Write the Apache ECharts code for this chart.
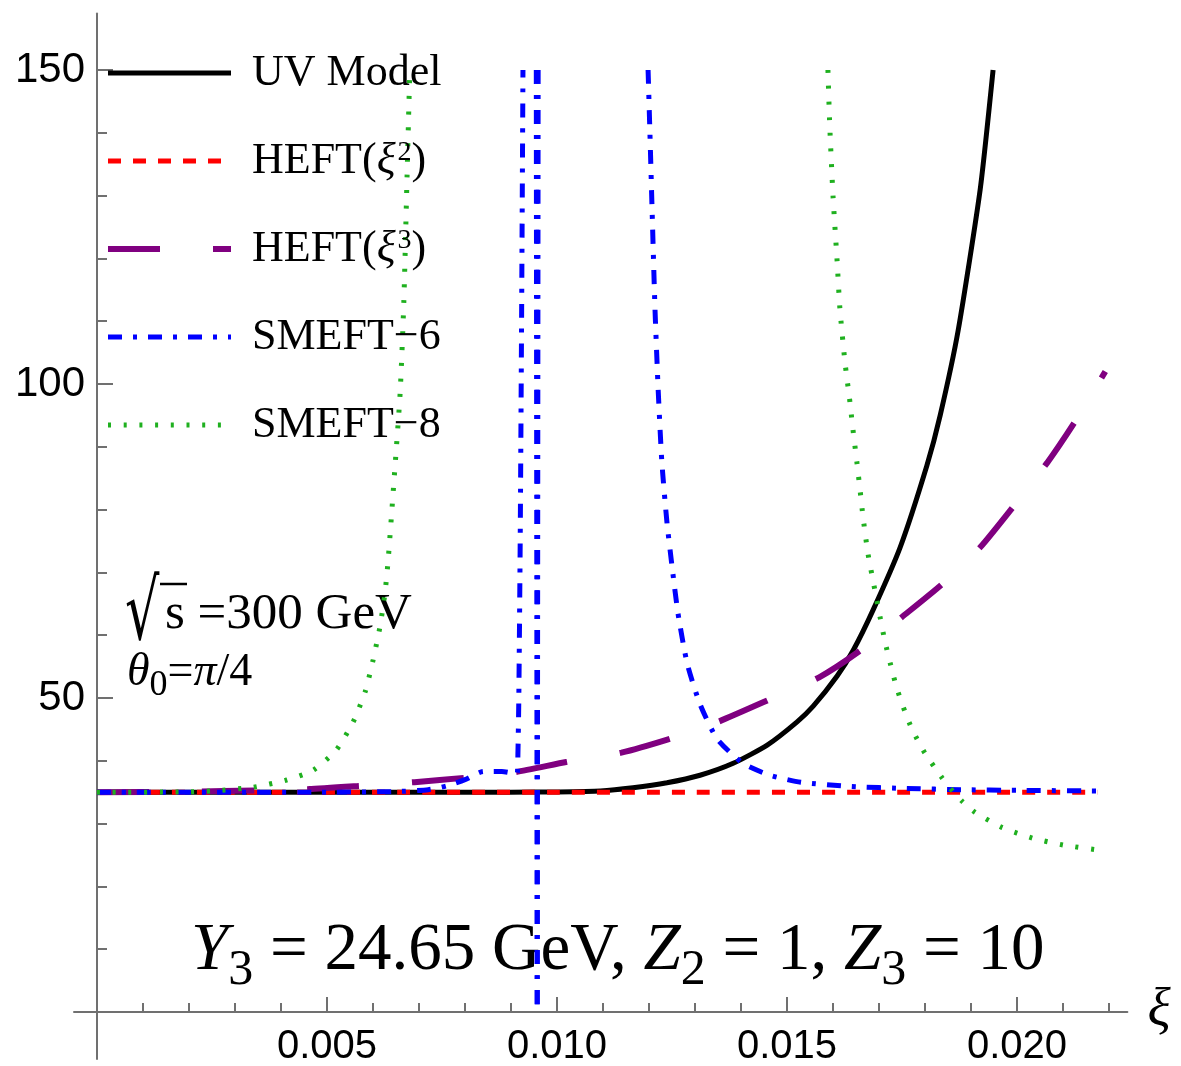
<!DOCTYPE html>
<html>
<head>
<meta charset="utf-8">
<title>UV model vs EFT</title>
<script src="https://cdn.jsdelivr.net/npm/echarts@6/dist/echarts.min.js"></script>
<style>
  html, body { margin: 0; padding: 0; background: #fff; }
  #container { width: 1181px; height: 1066px; }
</style>
</head>
<body>
<div id="container"></div>
<script>
// values: [xi, value]
var uvModel = [[0, 35], [0.004, 35], [0.008, 35], [0.0090, 35], [0.0100, 35.05], [0.01094, 35.2],
  [0.01165, 35.7], [0.01239, 36.5], [0.01311, 37.7], [0.01383, 39.6], [0.01457, 42.5], [0.01522, 46.2],
  [0.01557, 48.7], [0.01609, 53.5], [0.01644, 57.6], [0.01687, 64.0], [0.01746, 74.0], [0.01804, 87.0],
  [0.01833, 95.0], [0.01872, 108.5], [0.0192, 131.0], [0.01948, 150]];

var heft2 = [[0, 35], [0.01, 35], [0.02175, 35]];

var heft3 = [[0, 35], [0.002, 35.1], [0.0035, 35.3], [0.0046, 35.5], [0.0057, 36.0], [0.0069, 36.6],
  [0.0080, 37.3], [0.0091, 38.2], [0.0102, 39.8], [0.0114, 41.3], [0.0125, 43.6], [0.0135, 46.2],
  [0.0146, 49.7], [0.0157, 53.3], [0.0166, 57.6], [0.0175, 62.9], [0.0184, 68.3], [0.0192, 74.0],
  [0.0199, 80.3], [0.02065, 87.4], [0.02126, 94.0], [0.02192, 102.0]];

// SMEFT-6 has poles, so it comes in pieces
var smeft6Left = [[0, 35], [0.005, 35], [0.0065, 35.1], [0.0072, 35.4], [0.0076, 36.0], [0.0080, 37.0],
  [0.0084, 38.3], [0.0088, 38.3], [0.00913, 37.9], [0.00915, 41], [0.00917, 50], [0.0092, 75],
  [0.00923, 110], [0.00926, 150]];
var smeft6PoleA = [[0.00955, 150], [0.00957, 0]];
var smeft6PoleB = [[0.00959, 150], [0.00957, 0]];
var smeft6Right = [[0.01198, 150], [0.01202, 140], [0.01207, 127], [0.01213, 112], [0.0122, 99],
  [0.01228, 87.5], [0.01239, 78], [0.0125, 71], [0.01263, 63.5], [0.01283, 55.5], [0.01311, 49],
  [0.01348, 43.5], [0.01404, 39.6], [0.01463, 37.7], [0.0153, 36.6], [0.0164, 35.9], [0.0176, 35.6],
  [0.0188, 35.4], [0.02, 35.3], [0.02175, 35.2]];

var smeft8Left = [[0, 35], [0.002, 35.05], [0.0027, 35.3], [0.0034, 35.8], [0.0041, 36.9], [0.0047, 38.5],
  [0.0052, 41.7], [0.00557, 46.2], [0.00583, 51], [0.006, 56], [0.00615, 61.3], [0.00626, 66.7],
  [0.00633, 72], [0.00648, 87], [0.00659, 98.6], [0.00667, 113], [0.00674, 133], [0.0068, 150]];
var smeft8Right = [[0.01589, 150], [0.01593, 141], [0.016, 130], [0.01609, 119.5], [0.01615, 112],
  [0.01626, 103.5], [0.01637, 97], [0.01643, 93], [0.01652, 87.5], [0.01659, 83], [0.01665, 79],
  [0.01676, 73], [0.01691, 67.2], [0.01702, 63], [0.01713, 59], [0.01728, 54.5], [0.01739, 51.5],
  [0.01757, 47.7], [0.01772, 45], [0.018, 41.2], [0.01837, 37.3], [0.01861, 35.1], [0.0188, 33.6],
  [0.01909, 31.8], [0.01967, 29.4], [0.02033, 27.7], [0.021, 26.6], [0.02175, 25.8]];

var xMajorTicks = [0.005, 0.010, 0.015, 0.020];
var xMinorTicks = [0.001, 0.002, 0.003, 0.004, 0.006, 0.007, 0.008, 0.009, 0.011, 0.012, 0.013,
  0.014, 0.016, 0.017, 0.018, 0.019, 0.021, 0.022];
var yMajorTicks = [50, 100, 150];
var yMinorTicks = [10, 20, 30, 40, 60, 70, 80, 90, 110, 120, 130, 140];

var seriesNames = ['UV Model', 'HEFT2', 'HEFT3', 'SMEFT-6', 'SMEFT-8'];
var legendText = {
  'UV Model': '{n|UV Model}',
  'HEFT2': '{n|HEFT(}{i|ξ}{s|2}{n|)}',
  'HEFT3': '{n|HEFT(}{i|ξ}{s|3}{n|)}',
  'SMEFT-6': '{n|SMEFT\u22126}',
  'SMEFT-8': '{n|SMEFT\u22128}'
};

var axisGray = '#707070';

function curve(name, data, color, width, dash) {
  return {
    name: name,
    type: 'line',
    data: data,
    symbol: 'none',
    smooth: 0.2,
    clip: true,
    lineStyle: { color: color, width: width, type: dash },
    itemStyle: { color: color },
    emphasis: { disabled: true }
  };
}

var blueDash = [14, 11, 4, 11];
var greenDot = [3, 12.7];

var chart = echarts.init(document.getElementById('container'));

// with onZero the labels get placed from the grid edge, so margins are
// corrected by the distance between the edge and the zero line
var option = {
  animation: false,
  backgroundColor: '#fff',
  grid: { left: 74, right: 53.6, top: 13.5, bottom: 6.9, outerBoundsMode: 'none' },
  xAxis: [
    {
      type: 'value', min: -0.0005, max: 0.0224,
      name: 'ξ', nameLocation: 'end', nameGap: 20,
      nameTextStyle: { fontFamily: 'Liberation Serif', fontStyle: 'italic', fontSize: 54, color: '#000',
        verticalAlign: 'middle' },
      axisLine: { onZero: true, lineStyle: { color: axisGray, width: 2 } },
      axisTick: { inside: true, length: 15, customValues: xMajorTicks, lineStyle: { color: axisGray, width: 2 } },
      axisLabel: { customValues: xMajorTicks, margin: -32, color: '#000', fontSize: 40, fontFamily: 'Liberation Sans',
        formatter: function (v) { return v.toFixed(3); } },
      splitLine: { show: false }
    },
    {
      type: 'value', min: -0.0005, max: 0.0224, position: 'bottom',
      axisLine: { show: false, onZero: true },
      axisTick: { inside: true, length: 9, customValues: xMinorTicks, lineStyle: { color: axisGray, width: 2 } },
      axisLabel: { show: false },
      splitLine: { show: false }
    }
  ],
  yAxis: [
    {
      type: 'value', min: -7.5, max: 159, position: 'left',
      axisLine: { onZero: true, lineStyle: { color: axisGray, width: 2 } },
      axisTick: { inside: true, length: 16, customValues: yMajorTicks, lineStyle: { color: axisGray, width: 2 } },
      axisLabel: { customValues: yMajorTicks, margin: -11, color: '#000', fontSize: 42, fontFamily: 'Liberation Sans' },
      splitLine: { show: false }
    },
    {
      type: 'value', min: -7.5, max: 159, position: 'left',
      axisLine: { show: false, onZero: true },
      axisTick: { inside: true, length: 10, customValues: yMinorTicks, lineStyle: { color: axisGray, width: 2 } },
      axisLabel: { show: false },
      splitLine: { show: false }
    }
  ],
  legend: {
    orient: 'vertical', left: 105, top: 51, padding: 0,
    itemGap: 44, itemWidth: 123, itemHeight: 14,
    selectedMode: false,
    data: seriesNames,
    lineStyle: { width: 'inherit' },
    itemStyle: { opacity: 0, color: 'rgba(0,0,0,0)', borderWidth: 0 },
    formatter: function (name) { return legendText[name]; },
    textStyle: {
      padding: [0, 0, 0, 16],
      color: '#000',
      fontFamily: 'Liberation Serif',
      fontSize: 44,
      rich: {
        n: { fontFamily: 'Liberation Serif', fontSize: 44, lineHeight: 44, verticalAlign: 'top', color: '#000' },
        i: { fontFamily: 'Liberation Serif', fontStyle: 'italic', fontSize: 44, lineHeight: 44, verticalAlign: 'top', color: '#000' },
        s: { fontFamily: 'Liberation Serif', fontSize: 28, lineHeight: 28, verticalAlign: 'top', padding: [0, 0, 0, 2], color: '#000' }
      }
    }
  },
  graphic: [
    {
      type: 'text', x: 125, y: 575, scaleY: 1.55,
      style: { text: '√', fontFamily: 'DejaVu Serif', fontSize: 54, fill: '#000', align: 'left', verticalAlign: 'top' }
    },
    {
      type: 'line', shape: { x1: 160, y1: 584, x2: 187, y2: 584 },
      style: { stroke: '#000', lineWidth: 2.5 }
    },
    {
      type: 'text', x: 165, y: 614.8,
      style: { text: 's =300 GeV', fontFamily: 'Liberation Serif', fontSize: 51, fill: '#000', align: 'left', verticalAlign: 'middle' }
    },
    {
      type: 'text', x: 127, y: 649.5,
      style: {
        text: '{i|θ}{s|0}{n|=}{i|π}{n|/4}',
        align: 'left', verticalAlign: 'top',
        rich: {
          n: { fontFamily: 'Liberation Serif', fontSize: 46, lineHeight: 46, verticalAlign: 'top', color: '#000' },
          i: { fontFamily: 'Liberation Serif', fontStyle: 'italic', fontSize: 46, lineHeight: 46, verticalAlign: 'top', color: '#000' },
          s: { fontFamily: 'Liberation Serif', fontSize: 36, lineHeight: 36, verticalAlign: 'top', padding: [18, 0, 0, 0], color: '#000' }
        }
      }
    },
    {
      type: 'text', x: 191, y: 918,
      style: {
        text: '{v|Y}{s|3}{n| = 24.65 GeV, }{v|Z}{s|2}{n| = 1, }{v|Z}{s|3}{n| = 10}',
        align: 'left', verticalAlign: 'top',
        rich: {
          n: { fontFamily: 'Liberation Serif', fontSize: 67, lineHeight: 67, verticalAlign: 'top', color: '#000' },
          v: { fontFamily: 'Liberation Serif', fontStyle: 'italic', fontSize: 67, lineHeight: 67, verticalAlign: 'top', color: '#000' },
          s: { fontFamily: 'Liberation Serif', fontSize: 50, lineHeight: 50, verticalAlign: 'top', padding: [28, 0, 0, 0], color: '#000' }
        }
      }
    }
  ],
  series: [
    curve('UV Model', uvModel, '#000000', 5, 'solid'),
    curve('HEFT2', heft2, '#ff0000', 5, [13, 12]),
    curve('HEFT3', heft3, '#800080', 6, [52, 53]),
    curve('SMEFT-6', smeft6Left, '#0000ff', 5, blueDash),
    curve('SMEFT-6', smeft6PoleA, '#0000ff', 5, blueDash),
    curve('SMEFT-6', smeft6PoleB, '#0000ff', 5, blueDash),
    curve('SMEFT-6', smeft6Right, '#0000ff', 5, blueDash),
    curve('SMEFT-8', smeft8Left, '#1fb01f', 5, greenDot),
    curve('SMEFT-8', smeft8Right, '#1fb01f', 5, greenDot)
  ]
};

chart.setOption(option);
</script>
</body>
</html>
